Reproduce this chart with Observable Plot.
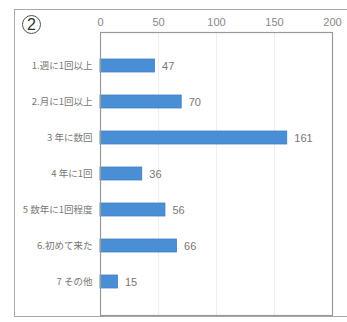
<!DOCTYPE html>
<html><head><meta charset="utf-8">
<script src="https://cdn.jsdelivr.net/npm/d3@7"></script>
<script src="https://cdn.jsdelivr.net/npm/@observablehq/plot@0.6"></script>
<style>
body{margin:0;background:#fff;font-family:"Noto Sans CJK JP",sans-serif;}
#wrap{position:relative;width:347px;height:322px;overflow:hidden;}
#box{position:absolute;left:14px;top:9px;width:345px;height:308px;border:1.5px solid #a8a8a8;box-sizing:border-box;}
#num{position:absolute;left:22px;top:15px;width:19px;height:19px;border:1.2px solid #555;border-radius:50%;box-sizing:border-box;font:16px "Liberation Sans",Arial,sans-serif;color:#333;text-align:center;line-height:17px;}
#chart{position:absolute;left:0;top:0;}
</style></head>
<body><div id="wrap"><div id="box"></div><div id="chart"></div><div id="num">2</div></div>
<script>
const categories = ["1.週に1回以上","2.月に1回以上","3 年に数回","4 年に1回","5 数年に1回程度","6.初めて来た","7 その他"];
const values = [47, 70, 161, 36, 56, 66, 15];
const xTicks = [0, 50, 100, 150, 200];
const data = categories.map((c, i) => ({cat: c, val: values[i]}));
const chart = Plot.plot({
  width: 347, height: 322,
  marginLeft: 100, marginRight: 15, marginTop: 32, marginBottom: 7,
  style: {fontFamily: '"Noto Sans CJK JP", sans-serif', background: "transparent"},
  x: {domain: [0, 200], ticks: xTicks, axis: null},
  y: {domain: categories, padding: 0.65, axis: null},
  marks: [
    Plot.ruleX(xTicks.slice(1, -1), {stroke: "#eeeeee", strokeWidth: 1}),
    Plot.axisX({anchor: "top", ticks: xTicks, tickSize: 0, tickPadding: 7, fontSize: 11, fill: "#888", label: null, fontFamily: '"Liberation Sans", Arial, sans-serif'}),
    Plot.axisY({anchor: "left", tickSize: 0, tickPadding: 8, fontSize: 9.5, fill: "#777", label: null}),
    Plot.barX(data, {x: "val", y: "cat", fill: "#4a8fd5", stroke: "#3f7fc2", strokeWidth: 0.8}),
    Plot.text(data, {x: "val", y: "cat", text: d => String(d.val), dx: 7, textAnchor: "start", fontSize: 11, fill: "#777", fontFamily: '"Liberation Sans", Arial, sans-serif'}),
    Plot.frame({stroke: "#999", strokeWidth: 1.2})
  ]
});
document.getElementById("chart").appendChild(chart);
</script></body></html>
